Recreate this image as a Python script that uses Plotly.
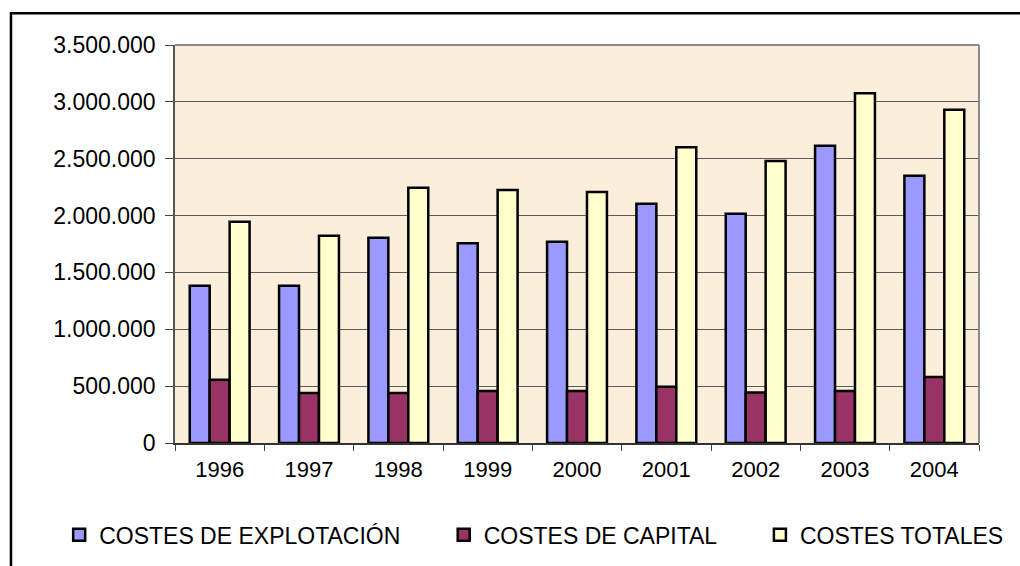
import plotly.graph_objects as go

# Data
years = ["1996", "1997", "1998", "1999", "2000", "2001", "2002", "2003", "2004"]
costes_explotacion = [1383000, 1383000, 1805000, 1756000, 1770000, 2104000, 2016000, 2614000, 2351000]
costes_capital = [557000, 440000, 440000, 458000, 458000, 495000, 445000, 458000, 580000]
costes_totales = [1946000, 1822000, 2245000, 2225000, 2207000, 2600000, 2480000, 3075000, 2931000]

series = [
    ("COSTES DE EXPLOTACIÓN", costes_explotacion, "#9999FF", "legend"),
    ("COSTES DE CAPITAL", costes_capital, "#993366", "legend2"),
    ("COSTES TOTALES", costes_totales, "#FFFFCC", "legend3"),
]

FONT = "Liberation Sans, Arial, sans-serif"

fig = go.Figure()
for name, vals, color, leg in series:
    fig.add_trace(go.Bar(
        x=years,
        y=vals,
        name=name,
        marker=dict(color=color, line=dict(color="black", width=2.5)),
        legend=leg,
        showlegend=True,
        hovertemplate="%{x}: %{y:,d}<extra>" + name + "</extra>",
    ))

# one legend box per series so each entry sits where it does in the original
legend_style = dict(
    orientation="h",
    xref="container",
    yref="container",
    yanchor="middle",
    y=0.055,
    xanchor="left",
    font=dict(family=FONT, size=23, color="black"),
    bgcolor="rgba(0,0,0,0)",
)

fig.update_layout(
    width=1020,
    height=566,
    margin=dict(l=175, r=41, t=45, b=123),
    paper_bgcolor="white",
    plot_bgcolor="#FBEEDA",
    barmode="group",
    bargap=0.33,
    bargroupgap=0,
    separators=",.",
    showlegend=True,
    font=dict(family=FONT, color="black"),
    legend=dict(x=0.058, **legend_style),
    legend2=dict(x=0.435, **legend_style),
    legend3=dict(x=0.745, **legend_style),
    xaxis=dict(
        type="category",
        tickson="boundaries",
        ticks="outside",
        ticklen=6,
        tickcolor="#444",
        ticklabelstandoff=6,
        showgrid=False,
        showline=True,
        linecolor="#333",
        linewidth=1.5,
        tickfont=dict(family=FONT, size=22, color="black"),
    ),
    yaxis=dict(
        range=[0, 3500000],
        dtick=500000,
        tickformat=",d",
        ticks="outside",
        ticklen=8,
        tickcolor="#444",
        ticklabelstandoff=5,
        showgrid=True,
        gridcolor="#5a5a5a",
        gridwidth=1,
        zeroline=False,
        showline=True,
        linecolor="#555",
        linewidth=1.5,
        tickfont=dict(family=FONT, size=23, color="black"),
    ),
    shapes=[
        # gray border on the top and right of the plot area
        dict(type="line", xref="paper", yref="paper", x0=0, x1=1, y0=1, y1=1,
             line=dict(color="#8a8a8a", width=2), layer="above"),
        dict(type="line", xref="paper", yref="paper", x0=1, x1=1, y0=0, y1=1,
             line=dict(color="#8a8a8a", width=2), layer="above"),
        # outer black frame of the chart object
        dict(type="rect", xref="paper", yref="paper",
             x0=-0.204, x1=1.06, y0=-0.32, y1=1.08,
             line=dict(color="black", width=2.5), fillcolor="rgba(0,0,0,0)"),
    ],
)

fig.write_html("out.html", config={"displayModeBar": False},
               post_script="document.body.style.margin='0';")
